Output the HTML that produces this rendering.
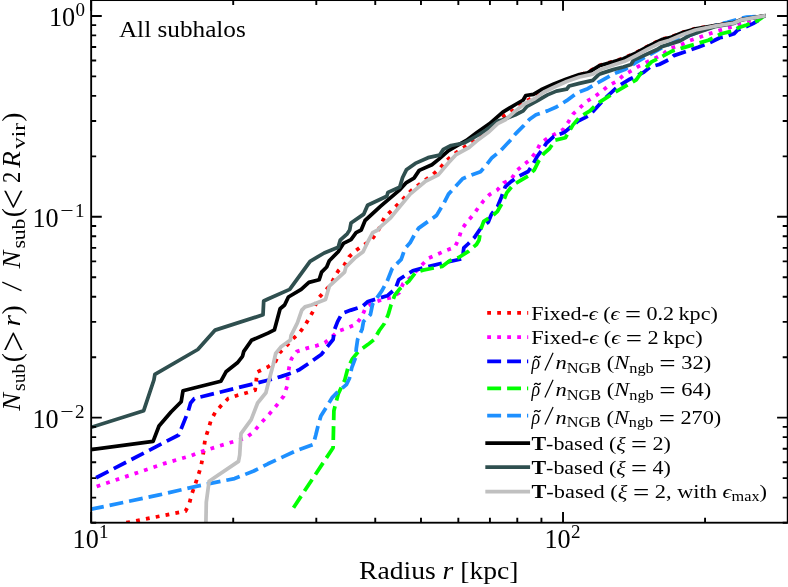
<!DOCTYPE html>
<html><head><meta charset="utf-8"><title>Subhalo radial distribution</title>
<style>html,body{margin:0;padding:0;background:#fff;}svg{display:block;will-change:transform;}text{font-family:"Liberation Serif",serif;fill:#000;}.i{font-style:italic;}.b{font-weight:bold;}</style></head><body>
<svg width="788" height="587" viewBox="0 0 788 587">
<rect x="0" y="0" width="788" height="587" fill="#ffffff"/>
<defs><clipPath id="cp"><rect x="91.2" y="0.1" width="696.5" height="522.6"/></clipPath></defs>
<g clip-path="url(#cp)" fill="none" stroke-width="3.75" stroke-linejoin="round">
<polyline stroke="#ff0000" stroke-dasharray="3.8 6.2" points="126.3,522.7 185.5,511.2 189.3,503.5 191.8,494.0 195.0,485.0 198.2,475.4 200.8,467.1 202.7,457.6 204.0,447.7 205.2,438.7 208.4,429.2 211.0,420.2 215.5,411.9 221.8,404.9 228.2,398.5 237.8,395.3 246.7,392.8 255.1,390.2 256.3,380.0 257.2,372.0 268.0,366.9 275.7,361.2 279.5,352.9 285.9,346.5 292.9,338.8 299.3,333.1 305.0,325.4 309.5,317.8 314.0,309.5 317.2,299.6 322.9,293.2 330.6,285.0 333.8,278.5 338.2,270.9 344.6,264.5 349.1,256.8 356.1,250.4 363.1,245.3 371.5,240.0 377.8,231.3 384.2,217.9 398.3,203.9 411.5,190.2 419.2,184.5 433.2,174.3 440.2,167.9 446.0,160.9 453.0,155.1 460.7,149.4 467.7,144.9 476.6,139.8 489.4,128.0 504.7,115.3 512.3,110.9 520.0,105.1 527.7,100.4 535.3,96.2 541.1,91.5 553.9,85.0 566.6,79.5 579.4,75.0 587.7,72.3 599.2,65.5 613.2,61.5 623.4,58.3 636.2,52.6 649.0,45.6 661.7,39.2 670.0,37.4 682.8,32.4 695.5,28.6 714.7,25.6 733.9,22.6 741.5,19.6 763.9,16.0"/>
<polyline stroke="#ff00ff" stroke-dasharray="3.8 6.2" stroke-dashoffset="4.2" points="91.2,488.4 163.1,463.9 191.2,455.6 199.5,452.2 218.0,446.4 236.5,440.7 245.5,438.1 253.1,432.4 259.5,424.7 265.9,417.7 272.3,410.7 278.0,403.6 283.8,396.0 287.0,386.4 287.6,377.8 289.1,367.6 291.6,358.6 296.7,351.6 306.3,348.4 315.9,345.9 324.8,342.7 331.9,336.9 338.2,331.2 347.2,328.0 356.1,324.2 361.9,316.5 365.7,307.6 372.7,302.8 382.0,299.6 391.0,297.7 399.3,292.6 403.1,283.6 410.1,277.9 422.3,264.5 428.7,258.1 437.6,254.3 445.9,250.4 454.8,247.2 458.7,238.9 461.5,229.7 466.9,222.0 473.0,215.1 478.4,207.5 483.7,200.6 489.8,194.4 497.5,189.8 503.6,183.0 511.3,179.1 516.7,170.7 522.8,165.3 529.7,160.0 535.8,152.3 540.4,143.4 547.5,138.3 563.4,129.4 568.5,121.7 573.0,114.1 580.0,107.7 586.4,101.5 594.0,97.0 601.7,91.3 608.7,85.6 617.0,81.1 623.4,75.3 631.1,70.9 639.4,65.8 648.3,61.3 656.6,57.5 664.3,53.0 670.0,48.5 681.5,44.7 689.2,40.9 698.1,37.7 707.0,34.5 716.6,31.3 724.9,28.7 735.1,26.2 742.8,23.6 763.9,16.0"/>
<polyline stroke="#0000ff" stroke-dasharray="13.9 6.0" stroke-dashoffset="14.4" points="91.2,480.3 178.7,435.0 188.0,411.9 190.6,403.0 194.4,398.5 271.8,379.3 280.8,376.6 292.3,372.7 298.7,370.1 310.1,362.5 321.6,354.2 328.0,345.9 333.1,339.5 334.4,329.9 337.6,321.6 342.1,313.3 351.0,310.1 362.5,306.3 368.0,301.5 387.2,295.8 395.5,288.7 398.7,279.8 406.3,274.7 412.7,270.9 424.2,267.7 442.1,263.2 462.5,258.7 463.8,247.9 468.0,244.0 474.5,237.4 480.7,228.2 488.3,222.0 491.4,214.4 497.5,206.7 501.3,197.5 505.2,186.8 511.3,181.4 519.0,176.1 528.2,171.5 532.8,164.6 537.4,156.1 542.0,150.0 546.2,143.4 553.9,136.4 564.1,132.6 571.7,126.2 578.1,121.1 584.5,117.9 590.0,114.7 604.3,99.0 618.3,86.2 629.8,79.2 636.2,76.0 643.9,72.1 650.2,67.0 659.2,64.5 669.4,59.4 673.8,55.6 685.3,51.7 698.1,47.3 709.6,42.8 719.8,37.7 726.2,36.4 733.9,33.8 737.7,30.0 744.1,27.5 753.0,23.6 759.4,19.8 763.9,16.0"/>
<polyline stroke="#00ff00" stroke-dasharray="13.9 6.0" points="293.5,507.7 333.1,447.7 333.9,410.7 338.2,394.0 344.8,380.0 348.0,367.6 352.5,358.6 358.9,351.0 367.8,344.6 374.2,339.5 379.3,330.5 384.4,323.5 388.2,314.6 391.0,305.0 394.8,295.1 399.9,288.7 408.9,281.1 415.3,272.8 422.9,270.2 442.1,266.4 449.7,260.7 458.7,257.5 468.0,251.7 476.5,244.5 479.1,240.0 480.7,229.7 483.7,221.3 491.4,216.7 497.5,211.3 503.6,200.6 506.7,192.9 512.8,185.2 519.0,181.4 528.2,176.1 534.3,169.9 538.9,160.7 543.5,153.8 549.6,148.5 555.1,140.2 565.4,137.7 569.2,131.3 573.0,124.9 579.4,117.3 585.8,113.4 590.0,110.9 596.6,104.1 614.5,92.6 629.8,83.6 636.2,79.8 642.6,70.9 651.5,61.9 661.7,56.8 672.0,51.1 682.8,47.9 695.5,44.1 708.3,40.2 714.7,37.0 721.1,33.8 731.3,31.3 739.0,27.5 746.6,24.9 756.8,21.1 763.9,16.3"/>
<polyline stroke="#1e90ff" stroke-dasharray="13.9 6.0" stroke-dashoffset="1.1" points="91.2,509.2 158.0,495.2 196.3,486.3 234.6,478.6 253.8,471.0 268.0,463.8 296.6,450.5 313.2,444.6 315.8,435.0 318.3,424.8 320.9,415.9 327.3,405.7 332.4,397.3 337.5,392.2 346.4,384.6 349.4,378.5 351.8,367.6 355.7,357.4 356.3,348.4 357.6,339.5 362.1,329.3 363.5,321.5 370.4,314.6 372.6,304.0 382.0,290.7 387.2,281.1 392.3,268.3 401.2,259.4 405.0,248.5 410.1,242.8 415.3,233.2 418.7,228.1 436.6,215.4 444.2,202.6 448.5,194.1 456.2,185.8 462.6,178.7 471.5,174.9 480.5,171.7 485.6,166.0 492.0,157.7 500.0,151.3 510.4,140.2 515.5,133.9 523.2,126.2 529.6,119.2 536.0,114.7 547.5,110.9 556.4,107.0 566.6,100.7 576.8,93.0 587.7,88.7 595.3,84.3 603.0,79.8 613.2,74.1 619.6,71.5 624.7,69.6 634.9,63.2 645.8,56.8 661.7,47.9 680.0,39.0 700.0,31.5 718.5,24.3 727.5,22.3 739.0,18.9 746.6,17.2 763.9,16.0"/>
<polyline stroke="#000000" stroke-linecap="square" points="91.2,449.5 153.1,441.3 159.0,426.0 171.0,412.0 181.2,401.7 183.0,390.7 220.8,381.3 226.0,371.8 237.4,362.8 242.5,356.4 243.8,351.3 251.5,340.3 268.0,333.1 274.4,329.9 280.1,308.8 284.6,305.0 288.4,297.0 301.2,289.4 308.9,282.4 319.1,279.8 321.6,272.1 326.7,267.0 329.3,260.7 338.2,251.7 343.4,243.4 351.0,239.6 356.1,232.6 361.2,230.0 365.1,220.5 380.4,206.4 400.0,189.6 406.4,182.6 414.0,178.1 419.2,170.4 431.9,164.7 438.3,159.6 448.5,150.7 456.2,146.2 466.4,140.4 476.6,132.8 489.4,123.8 502.8,112.1 515.5,104.5 523.2,100.0 525.8,95.5 533.4,94.3 541.1,89.8 553.9,84.0 566.6,78.9 579.4,74.5 587.7,72.8 599.2,65.8 613.2,61.9 623.4,58.7 636.2,53.0 649.0,46.0 661.7,39.6 670.0,37.7 682.8,32.6 695.5,28.8 714.7,25.7 733.9,22.7 741.5,19.6 763.9,16.0"/>
<polyline stroke="#2f4f4f" stroke-linecap="square" points="91.2,427.3 143.7,410.7 153.9,380.0 154.9,374.3 197.8,349.5 215.2,330.1 263.0,314.8 263.7,301.0 268.0,299.0 289.7,289.4 310.1,261.3 324.2,253.0 338.2,247.2 340.2,240.2 347.2,233.8 349.7,230.0 351.0,223.0 363.8,214.1 367.6,205.2 386.8,196.2 388.0,192.4 399.5,187.3 400.0,186.4 402.6,177.5 406.4,169.8 415.3,163.4 428.1,157.7 439.6,155.1 443.4,149.4 451.1,145.5 463.9,143.0 469.0,140.4 476.6,136.0 486.8,129.6 497.7,121.1 502.8,119.8 515.5,114.7 523.2,110.9 527.0,106.4 538.5,100.0 547.5,94.9 556.4,91.1 566.6,89.2 569.2,86.0 579.4,83.4 592.8,80.4 599.2,74.1 613.2,69.6 623.4,67.0 631.1,64.5 633.6,60.0 643.9,55.5 656.6,49.8 661.7,46.6 680.0,40.9 689.2,35.6 702.0,31.0 714.7,26.7 733.9,23.3 741.5,20.0 763.9,16.0"/>
<polyline stroke="#c0c0c0" stroke-linecap="square" points="205.9,522.7 206.3,502.3 209.1,481.2 238.5,461.4 239.7,455.0 241.0,433.6 251.2,419.6 257.6,403.0 265.9,392.8 269.1,380.0 273.1,365.0 275.7,353.5 280.8,347.1 290.4,340.1 291.0,335.7 297.4,322.9 301.8,310.1 305.0,306.9 311.4,305.0 325.5,299.6 329.3,286.2 344.6,272.1 345.9,267.0 354.8,258.1 363.1,251.7 368.0,241.5 372.7,232.6 377.8,230.0 380.4,226.9 390.6,217.9 395.7,211.5 410.2,194.1 425.5,181.3 438.3,174.9 448.5,162.8 456.2,154.5 469.0,147.5 476.6,141.1 489.4,131.5 497.7,123.6 505.3,119.8 515.5,110.9 524.5,103.8 534.7,98.7 543.6,92.3 553.9,87.2 566.6,81.5 579.4,77.0 592.8,74.1 600.4,69.6 613.2,65.1 624.7,61.3 636.2,55.5 647.7,49.2 659.2,43.4 669.4,40.2 682.8,34.5 695.5,30.0 714.7,26.2 733.9,23.0 741.5,19.8 763.9,16.0"/>
</g>
<path d="M91.17 522.70V512.10M91.17 0.10V10.70M233.21 522.70V517.70M233.21 0.10V5.10M316.30 522.70V517.70M316.30 0.10V5.10M375.25 522.70V517.70M375.25 0.10V5.10M420.98 522.70V517.70M420.98 0.10V5.10M458.34 522.70V517.70M458.34 0.10V5.10M489.93 522.70V517.70M489.93 0.10V5.10M517.29 522.70V517.70M517.29 0.10V5.10M541.43 522.70V517.70M541.43 0.10V5.10M563.02 522.70V512.10M563.02 0.10V10.70M705.06 522.70V517.70M705.06 0.10V5.10M788.15 522.70V517.70M788.15 0.10V5.10M91.17 15.96H101.77M787.70 15.96H777.10M91.17 25.15H96.17M787.70 25.15H782.70M91.17 35.42H96.17M787.70 35.42H782.70M91.17 47.07H96.17M787.70 47.07H782.70M91.17 60.52H96.17M787.70 60.52H782.70M91.17 76.42H96.17M787.70 76.42H782.70M91.17 95.89H96.17M787.70 95.89H782.70M91.17 120.98H96.17M787.70 120.98H782.70M91.17 156.35H96.17M787.70 156.35H782.70M91.17 216.81H101.77M787.70 216.81H777.10M91.17 226.00H96.17M787.70 226.00H782.70M91.17 236.27H96.17M787.70 236.27H782.70M91.17 247.92H96.17M787.70 247.92H782.70M91.17 261.37H96.17M787.70 261.37H782.70M91.17 277.27H96.17M787.70 277.27H782.70M91.17 296.74H96.17M787.70 296.74H782.70M91.17 321.83H96.17M787.70 321.83H782.70M91.17 357.20H96.17M787.70 357.20H782.70M91.17 417.66H101.77M787.70 417.66H777.10M91.17 426.85H96.17M787.70 426.85H782.70M91.17 437.12H96.17M787.70 437.12H782.70M91.17 448.77H96.17M787.70 448.77H782.70M91.17 462.22H96.17M787.70 462.22H782.70M91.17 478.12H96.17M787.70 478.12H782.70M91.17 497.59H96.17M787.70 497.59H782.70M91.17 522.68H96.17M787.70 522.68H782.70" stroke="#000" stroke-width="1.9" fill="none"/>
<rect x="91.17" y="0.10" width="696.53" height="522.60" fill="none" stroke="#000" stroke-width="1.85"/>
<text x="75.2" y="26.2" font-size="27" text-anchor="end" textLength="26.2" lengthAdjust="spacingAndGlyphs">10</text><text x="75.4" y="16.2" font-size="19">0</text>
<text x="58.6" y="227.0" font-size="27" text-anchor="end" textLength="26.2" lengthAdjust="spacingAndGlyphs">10</text><text x="60.3" y="217.0" font-size="19" textLength="13.4" lengthAdjust="spacingAndGlyphs">−</text><text x="75.0" y="217.0" font-size="19">1</text>
<text x="58.6" y="427.9" font-size="27" text-anchor="end" textLength="26.2" lengthAdjust="spacingAndGlyphs">10</text><text x="60.3" y="417.9" font-size="19" textLength="13.4" lengthAdjust="spacingAndGlyphs">−</text><text x="75.0" y="417.9" font-size="19">2</text>
<text x="98.8" y="547.8" font-size="27" text-anchor="end" textLength="26.2" lengthAdjust="spacingAndGlyphs">10</text><text x="99.1" y="537.8" font-size="19">1</text>
<text x="570.6" y="547.8" font-size="27" text-anchor="end" textLength="26.2" lengthAdjust="spacingAndGlyphs">10</text><text x="570.9" y="537.8" font-size="19">2</text>
<text x="438.8" y="578.9" font-size="24.6" text-anchor="middle" textLength="159.4" lengthAdjust="spacingAndGlyphs">Radius <tspan class="i">r</tspan> [kpc]</text>
<text x="118.9" y="37.4" font-size="24" textLength="126.9" lengthAdjust="spacingAndGlyphs">All subhalos</text>
<g transform="translate(19.6,411.4) rotate(-90)">
<path d="M120.8 1.9L129.2 -17.3" stroke="#000" stroke-width="1.35" fill="none"/>
<text x="0.6" y="0.0" font-size="24.6" class="i" textLength="17.8" lengthAdjust="spacingAndGlyphs">N</text>
<text x="20.5" y="5.0" font-size="19.5" textLength="27.3" lengthAdjust="spacingAndGlyphs">sub</text>
<text x="49.2" y="1.0" font-size="27.5">(</text>
<text x="59.4" y="5.9" font-size="37" textLength="21.4" lengthAdjust="spacingAndGlyphs">&gt;</text>
<text x="85.0" y="0.0" font-size="24.6" class="i" textLength="11.5" lengthAdjust="spacingAndGlyphs">r</text>
<text x="97.0" y="1.0" font-size="27.5">)</text>
<text x="143.0" y="0.0" font-size="24.6" class="i" textLength="17.8" lengthAdjust="spacingAndGlyphs">N</text>
<text x="162.8" y="5.0" font-size="19.5" textLength="30.0" lengthAdjust="spacingAndGlyphs">sub</text>
<text x="194.2" y="1.0" font-size="27.5">(</text>
<text x="202.0" y="5.9" font-size="37" textLength="20.4" lengthAdjust="spacingAndGlyphs">&lt;</text>
<text x="228.4" y="0.0" font-size="24.6" textLength="11.2" lengthAdjust="spacingAndGlyphs">2</text>
<text x="243.6" y="0.0" font-size="24.6" class="i" textLength="16.6" lengthAdjust="spacingAndGlyphs">R</text>
<text x="262.4" y="5.0" font-size="19.5" textLength="26.0" lengthAdjust="spacingAndGlyphs">vir</text>
<text x="289.6" y="1.0" font-size="27.5">)</text>
</g>
<g fill="none" stroke-width="3.75">
<path d="M487.2 312.8H528.2" stroke="#ff0000" stroke-dasharray="3.8 6.2"/>
<path d="M487.2 337.0H528.2" stroke="#ff00ff" stroke-dasharray="3.8 6.2"/>
<path d="M487.2 361.4H528.2" stroke="#0000ff" stroke-dasharray="13.9 6.0"/>
<path d="M487.2 388.4H528.2" stroke="#00ff00" stroke-dasharray="13.9 6.0"/>
<path d="M487.2 415.6H528.2" stroke="#1e90ff" stroke-dasharray="13.9 6.0"/>
<path d="M487.2 443.0H528.2" stroke="#000000" stroke-linecap="square"/>
<path d="M487.2 467.2H528.2" stroke="#2f4f4f" stroke-linecap="square"/>
<path d="M487.2 491.6H528.2" stroke="#c0c0c0" stroke-linecap="square"/>
</g>
<text x="531.2" y="319.6" font-size="19" textLength="186.6" lengthAdjust="spacingAndGlyphs">Fixed-<tspan class="i">ϵ</tspan> (<tspan class="i">ϵ</tspan> <tspan font-size="24.5" dy="3.0">=</tspan><tspan dy="-3.0"> </tspan>0.2 kpc)</text>
<text x="531.2" y="343.8" font-size="19" textLength="171.4" lengthAdjust="spacingAndGlyphs">Fixed-<tspan class="i">ϵ</tspan> (<tspan class="i">ϵ</tspan> <tspan font-size="24.5" dy="3.0">=</tspan><tspan dy="-3.0"> </tspan>2 kpc)</text>
<text x="531.4" y="369.4" font-size="20" class="i" textLength="8.6" lengthAdjust="spacingAndGlyphs">ρ</text>
<path d="M544.9 370.4L553.1 352.8" stroke="#000" stroke-width="1.2"/>
<path d="M534.2 357.8q1.6 -2.2 3.2 -0.9t3.2 -0.9" fill="none" stroke="#000" stroke-width="1.35"/>
<text x="555.6" y="369.4" font-size="19" textLength="155.6" lengthAdjust="spacingAndGlyphs"><tspan class="i">n</tspan><tspan font-size="13.8" dy="3.8">NGB</tspan><tspan dy="-3.8"> (</tspan><tspan class="i">N</tspan><tspan font-size="13.8" dy="3.8">ngb</tspan><tspan dy="-3.8"> <tspan font-size="24.5" dy="3.0">=</tspan><tspan dy="-3.0"> </tspan>32)</tspan></text>
<text x="531.4" y="396.4" font-size="20" class="i" textLength="8.6" lengthAdjust="spacingAndGlyphs">ρ</text>
<path d="M544.9 397.4L553.1 379.8" stroke="#000" stroke-width="1.2"/>
<path d="M534.2 384.8q1.6 -2.2 3.2 -0.9t3.2 -0.9" fill="none" stroke="#000" stroke-width="1.35"/>
<text x="555.6" y="396.4" font-size="19" textLength="155.6" lengthAdjust="spacingAndGlyphs"><tspan class="i">n</tspan><tspan font-size="13.8" dy="3.8">NGB</tspan><tspan dy="-3.8"> (</tspan><tspan class="i">N</tspan><tspan font-size="13.8" dy="3.8">ngb</tspan><tspan dy="-3.8"> <tspan font-size="24.5" dy="3.0">=</tspan><tspan dy="-3.0"> </tspan>64)</tspan></text>
<text x="531.4" y="423.6" font-size="20" class="i" textLength="8.6" lengthAdjust="spacingAndGlyphs">ρ</text>
<path d="M544.9 424.6L553.1 407.0" stroke="#000" stroke-width="1.2"/>
<path d="M534.2 412.0q1.6 -2.2 3.2 -0.9t3.2 -0.9" fill="none" stroke="#000" stroke-width="1.35"/>
<text x="555.6" y="423.6" font-size="19" textLength="165.7" lengthAdjust="spacingAndGlyphs"><tspan class="i">n</tspan><tspan font-size="13.8" dy="3.8">NGB</tspan><tspan dy="-3.8"> (</tspan><tspan class="i">N</tspan><tspan font-size="13.8" dy="3.8">ngb</tspan><tspan dy="-3.8"> <tspan font-size="24.5" dy="3.0">=</tspan><tspan dy="-3.0"> </tspan>270)</tspan></text>
<text x="531.4" y="449.8" font-size="19" textLength="139.5" lengthAdjust="spacingAndGlyphs"><tspan class="b">T</tspan>-based (<tspan class="i">ξ</tspan> <tspan font-size="24.5" dy="3.0">=</tspan><tspan dy="-3.0"> </tspan>2)</text>
<text x="531.4" y="474.0" font-size="19" textLength="139.5" lengthAdjust="spacingAndGlyphs"><tspan class="b">T</tspan>-based (<tspan class="i">ξ</tspan> <tspan font-size="24.5" dy="3.0">=</tspan><tspan dy="-3.0"> </tspan>4)</text>
<text x="531.4" y="497.5" font-size="19" textLength="235.6" lengthAdjust="spacingAndGlyphs"><tspan class="b">T</tspan>-based (<tspan class="i">ξ</tspan> <tspan font-size="24.5" dy="3.0">=</tspan><tspan dy="-3.0"> </tspan>2, with <tspan class="i">ϵ</tspan><tspan font-size="13.8" dy="3.8">max</tspan><tspan dy="-3.8">)</tspan></text>
</svg></body></html>
